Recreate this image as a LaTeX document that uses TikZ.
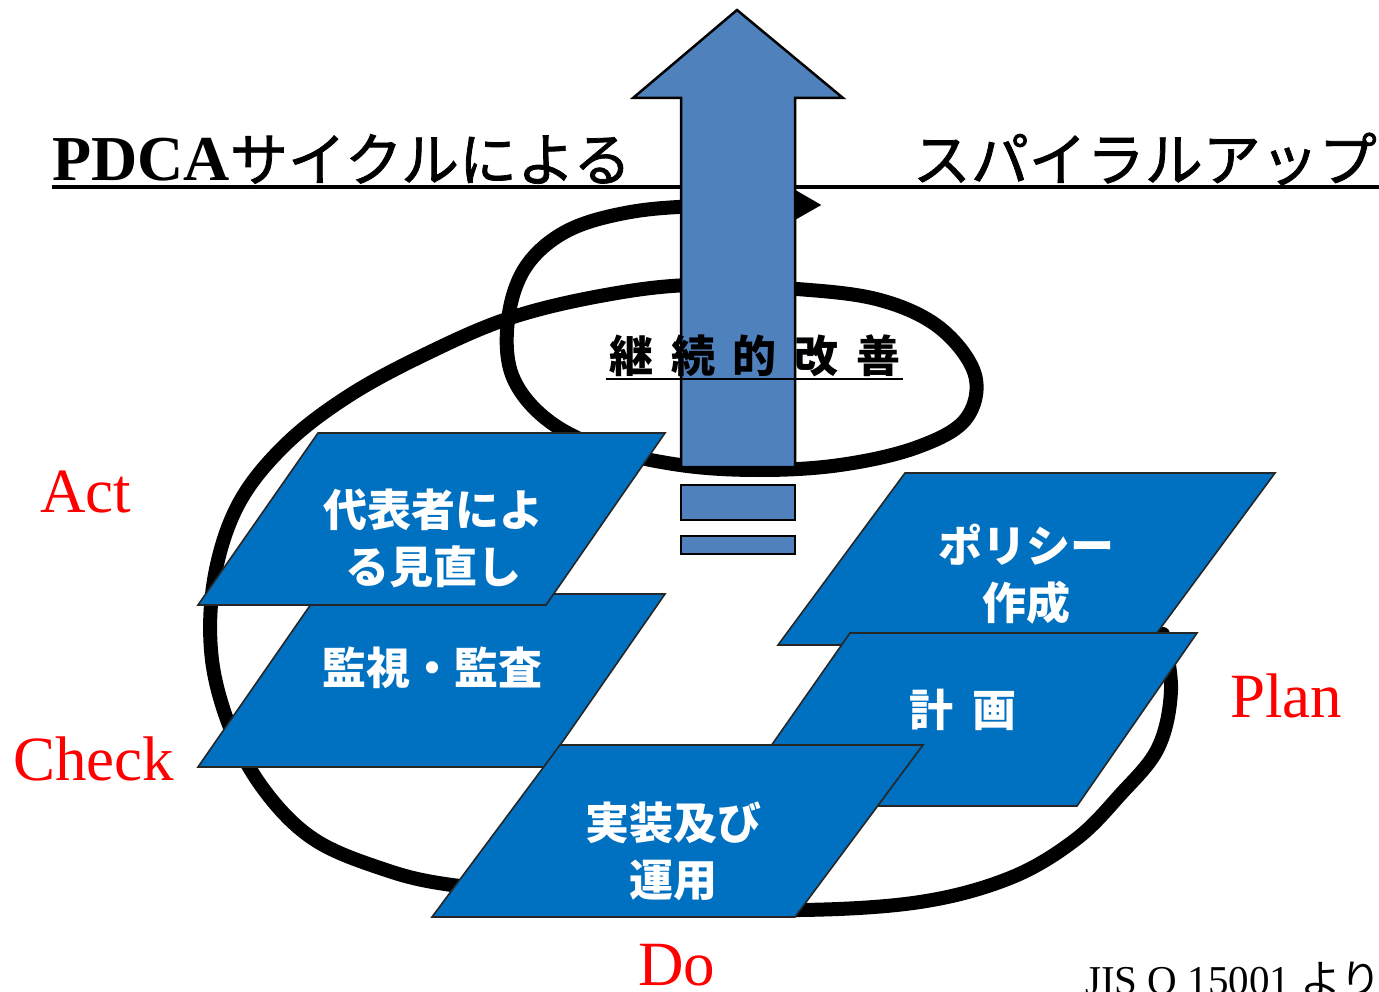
\documentclass[tikz,border=0pt]{standalone}
\usepackage{fontspec}
\setmainfont{Liberation Serif}
\newfontfamily\jp{Noto Sans CJK JP}
\newfontfamily\jptitle[FakeBold=1.3]{Noto Sans CJK JP}
\usetikzlibrary{arrows.meta}
\definecolor{arrowblue}{RGB}{79,129,189}
\definecolor{boxblue}{RGB}{0,112,192}
\begin{document}
\begin{tikzpicture}[x=1pt,y=-1pt,
  box/.style={draw=black!85, line width=1.6pt, fill=boxblue, line join=miter},
  boxtext/.style={text=white, font=\jp\bfseries\fontsize{44}{57}\selectfont, align=center, inner sep=0},
  pdcalabel/.style={text=red, font=\fontsize{63}{63}\selectfont, inner sep=0, anchor=base west},
  spiral/.style={line width=14pt, black, line cap=round, line join=round},
  bigarrow/.style={draw=black, line width=2.5pt, fill=arrowblue, line join=miter}]

\clip (0,0) rectangle (1379,992);
\fill[white] (0,0) rectangle (1379,992);

% spiral
\draw[spiral, -{Triangle[length=40pt,width=42pt]}] plot[smooth, tension=0.6] coordinates {
 (1163,634) (1171,690) (1158,748) (1120,795) (1075,840) (1010,878) (920,902) (800,910)
 (680,905) (560,895) (445,884) (380,868) (315,840) (268,795) (233,735) (212,660)
 (214,580) (238,505) (285,445) (350,395) (430,352) (510,318) (600,296) (690,285)
 (797,289) (880,300) (940,328) (975,375) (965,420) (915,448) (840,465) (760,470)
 (680,465) (600,447) (545,418) (512,375) (508,320) (525,268) (565,232) (625,213)
 (700,206) (822,205)};

% title line
\coordinate (tl) at (52,187);
\coordinate (tr) at (1379,187);
\draw[line width=3.5pt] (tl) -- (tr);

% title
\node[anchor=base west, inner sep=0] (title1) at (52,181)
  {\fontsize{64}{64}\selectfont\bfseries PDCA\jptitle\mdseries\fontsize{58}{58}\selectfont サイクルによる};
\node[anchor=base east, inner sep=0] (title2) at (1377,181)
  {\jptitle\fontsize{58}{58}\selectfont スパイラルアップ};

% big arrow
\draw[bigarrow] (737,10) -- (843,98) -- (795,98) -- (795,467) -- (681,467) -- (681,98) -- (633,98) -- cycle;
\draw[bigarrow] (681,485) rectangle (795,520);
\draw[bigarrow] (681,536) rectangle (795,554);

% continual improvement
\node[inner sep=0, anchor=base] (kz) at (755,372)
  {\jp\bfseries\fontsize{44}{44}\selectfont 継\hspace{18pt}続\hspace{18pt}的\hspace{18pt}改\hspace{18pt}善};
\coordinate (ul1) at (606,379);
\coordinate (ul2) at (903,379);
\draw[line width=2.5pt] (ul1) -- (ul2);

% parallelograms
\draw[box] (318,594) -- (665,594) -- (545,767) -- (198,767) -- cycle;
\draw[box] (318,433) -- (665,433) -- (546,605) -- (198,605) -- cycle;
\draw[box] (905,473) -- (1275,473) -- (1148,645) -- (778,645) -- cycle;
\draw[box] (850,633) -- (1197,633) -- (1077,806) -- (729,806) -- cycle;
\draw[box] (560,745) -- (923,745) -- (795,917) -- (432,917) -- cycle;

\node[boxtext] (act) at (433,538) {代表者によ\\る見直し};
\node[boxtext] (check) at (432,668) {監視・監査};
\node[boxtext] (policy) at (1026,574) {ポリシー\\作成};
\node[boxtext] (plan) at (963,710) {計\hspace{20pt}画};
\node[boxtext] (do) at (673,851) {実装及び\\運用};

% PDCA labels
\node[pdcalabel] (lact) at (40,512) {Act};
\node[pdcalabel] (lcheck) at (13,780) {Check};
\node[pdcalabel] (lplan) at (1230,717) {Plan};
\node[pdcalabel] (ldo) at (638,985) {Do};

% source
\node[anchor=base west, inner sep=0] (src) at (1085,994)
  {\fontsize{41}{41}\selectfont JIS Q 15001 \jp より};
\end{tikzpicture}
\end{document}
